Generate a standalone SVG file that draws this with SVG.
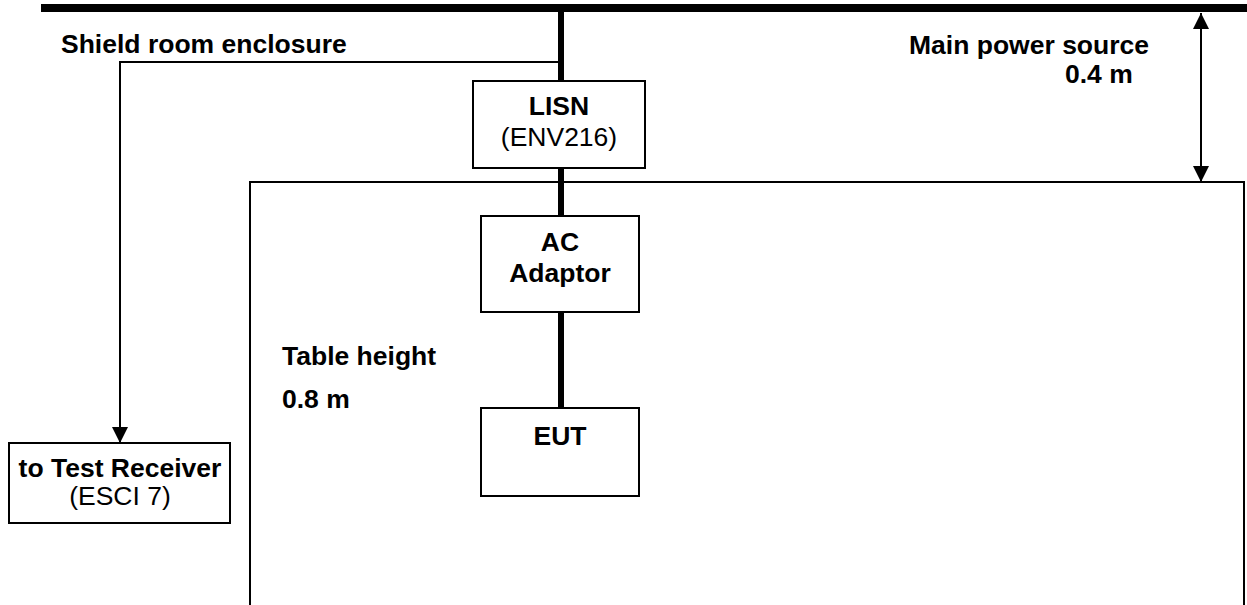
<svg xmlns="http://www.w3.org/2000/svg" width="1247" height="605" viewBox="0 0 1247 605">
<style>
.box{fill:#fff;stroke:#000;stroke-width:2}
.thin{fill:none;stroke:#000;stroke-width:2}
.thick{fill:none;stroke:#000;stroke-width:6}
.b{font-family:"Liberation Sans",Arial,sans-serif;font-weight:bold;font-size:26.5px;fill:#000}
.r{font-family:"Liberation Sans",Arial,sans-serif;font-size:26.5px;fill:#000}
</style>
<defs>
<marker id="ah" viewBox="0 0 16 16" refX="16" refY="8" markerWidth="16" markerHeight="16" markerUnits="userSpaceOnUse" orient="auto-start-reverse">
<path d="M0,0 L16,8 L0,16 z" fill="#000"/>
</marker>
</defs>
<rect width="1247" height="605" fill="#fff"/>
<g id="table">
<path class="thin" d="M250,605 V182 H1244 V605"/>
</g>
<g id="connectors">
<line x1="41" y1="8" x2="1247" y2="8" stroke="#000" stroke-width="8"/>
<line class="thick" x1="561" y1="4" x2="561" y2="408"/>
<path class="thin" d="M561,62 H120 V443" marker-end="url(#ah)"/>
<line class="thin" x1="1201" y1="13" x2="1201" y2="182" marker-start="url(#ah)" marker-end="url(#ah)"/>
</g>
<g id="labels">
<text class="b" x="61" y="53">Shield room enclosure</text>
<text class="b" x="909" y="54">Main power source</text>
<text class="b" x="1065" y="83">0.4 m</text>
<text class="b" x="282" y="365">Table height</text>
<text class="b" x="282" y="408">0.8 m</text>
</g>
<g id="lisn">
<rect class="box" x="473" y="81" width="172" height="87"/>
<text class="b" x="559" y="115" text-anchor="middle">LISN</text>
<text class="r" x="559" y="146" text-anchor="middle">(ENV216)</text>
</g>
<g id="ac-adaptor">
<rect class="box" x="481" y="216" width="158" height="96"/>
<text class="b" x="560" y="251" text-anchor="middle">AC</text>
<text class="b" x="560" y="282" text-anchor="middle">Adaptor</text>
</g>
<g id="eut">
<rect class="box" x="481" y="408" width="158" height="88"/>
<text class="b" x="560" y="445" text-anchor="middle">EUT</text>
</g>
<g id="test-receiver">
<rect class="box" x="9" y="443" width="221" height="80"/>
<text class="b" x="120" y="477" text-anchor="middle">to Test Receiver</text>
<text class="r" x="120" y="505" text-anchor="middle">(ESCI 7)</text>
</g>
</svg>
